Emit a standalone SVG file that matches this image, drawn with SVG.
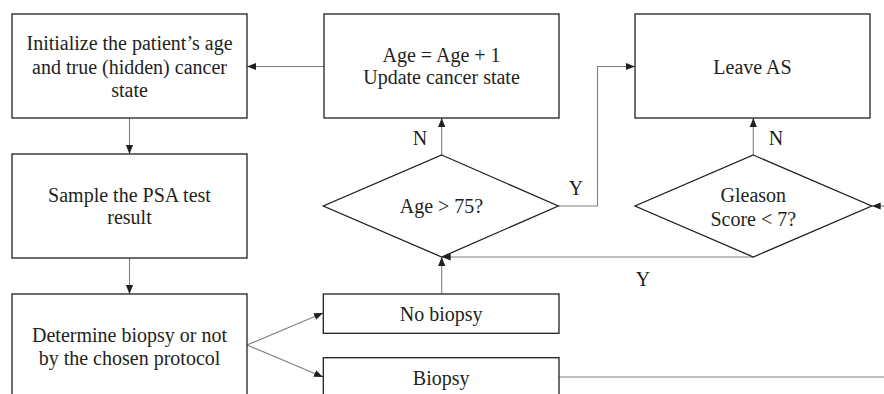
<svg xmlns="http://www.w3.org/2000/svg" width="884" height="394" viewBox="0 0 884 394">
<defs>
<marker id="ah" viewBox="0 0 10 10" refX="10" refY="5" markerWidth="9" markerHeight="9" markerUnits="userSpaceOnUse" orient="auto">
<path d="M0,1 L10,5 L0,9 Z" fill="#231f20"/>
</marker>
<style>
.box{fill:#fff;stroke:#231f20;stroke-width:1.3}
text{font-family:'Liberation Serif','DejaVu Serif',serif;font-size:20px;fill:#231f20;text-anchor:middle}
.c{fill:none;stroke:#808080;stroke-width:1.1}
.ca{fill:none;stroke:#808080;stroke-width:1.1;marker-end:url(#ah)}
</style>
</defs>
<rect width="884" height="394" fill="#fff"/>
<g id="connectors">
<path class="ca" d="M129.5,118 V154"/>
<path class="ca" d="M129.5,258 V294"/>
<path class="ca" d="M247,345 L323,313"/>
<path class="ca" d="M247,345 L323,377"/>
<path class="ca" d="M441.7,294 V257"/>
<path class="ca" d="M441.7,155 V118"/>
<path class="ca" d="M324,66.5 H247"/>
<path class="ca" d="M558.3,206 H597.5 V66.5 H635"/>
<path class="ca" d="M753.3,257 H441.7"/>
<path class="ca" d="M753.3,155 V118"/>
<path class="ca" d="M884,206 H871.7"/>
<path class="c" d="M559,377 H884"/>
</g>
<g id="init">
<rect class="box" x="12" y="14" width="235" height="104"/>
<text x="129.5" y="50">Initialize the patient’s age</text>
<text x="129.5" y="73.5">and true (hidden) cancer</text>
<text x="129.5" y="97">state</text>
</g>
<g id="update">
<rect class="box" x="324" y="14" width="235" height="104"/>
<text x="441.5" y="62">Age = Age + 1</text>
<text x="441.5" y="84">Update cancer state</text>
</g>
<g id="leave">
<rect class="box" x="635" y="14" width="235" height="104"/>
<text x="752.5" y="74">Leave AS</text>
</g>
<g id="sample">
<rect class="box" x="12" y="154" width="235" height="104"/>
<text x="129.5" y="201.5">Sample the PSA test</text>
<text x="129.5" y="224">result</text>
</g>
<g id="determine">
<rect class="box" x="12" y="294" width="235" height="110"/>
<text x="129.5" y="341.5">Determine biopsy or not</text>
<text x="129.5" y="365">by the chosen protocol</text>
</g>
<g id="age75">
<polygon class="box" points="441.7,155 558.3,206 441.7,257 323.3,206"/>
<text x="441.5" y="213">Age &gt; 75?</text>
</g>
<g id="gleason">
<polygon class="box" points="753.3,155 871.7,206 753.3,257 635,206"/>
<text x="753.3" y="202">Gleason</text>
<text x="753.3" y="225.5">Score &lt; 7?</text>
</g>
<g id="nobiopsy">
<rect class="box" x="323.3" y="294" width="235.7" height="39.3"/>
<text x="441.2" y="321">No biopsy</text>
</g>
<g id="biopsy">
<rect class="box" x="323.3" y="357.7" width="235.7" height="50"/>
<text x="441.2" y="385">Biopsy</text>
</g>
<g id="labels">
<text x="420" y="145">N</text>
<text x="776" y="145">N</text>
<text x="576" y="195">Y</text>
<text x="643" y="286">Y</text>
</g>
</svg>
